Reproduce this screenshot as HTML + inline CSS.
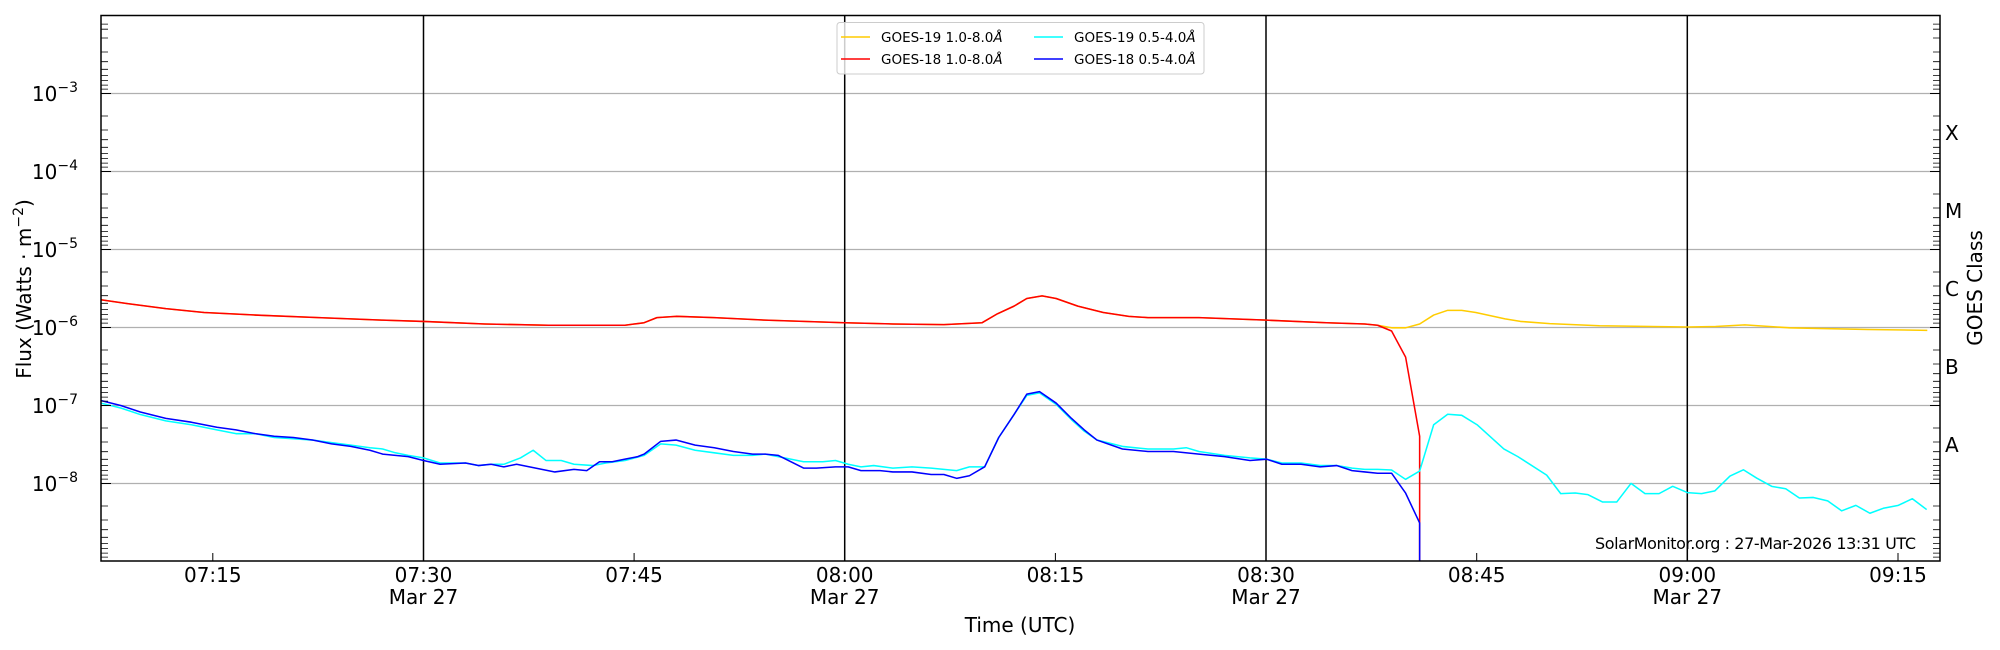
<!DOCTYPE html>
<html><head><meta charset="utf-8"><style>
html,body{margin:0;padding:0;background:#fff;}
svg{display:block;font-family:"DejaVu Sans","Liberation Sans",sans-serif;}
</style></head><body>
<svg width="2000" height="650" viewBox="0 0 2000 650" xmlns="http://www.w3.org/2000/svg">
<rect width="2000" height="650" fill="#fff"/>
<!-- grid -->
<g stroke="#b0b0b0" stroke-width="1.3">
<line x1="101" x2="1940" y1="93.5" y2="93.5"/>
<line x1="101" x2="1940" y1="171.5" y2="171.5"/>
<line x1="101" x2="1940" y1="249.5" y2="249.5"/>
<line x1="101" x2="1940" y1="327.5" y2="327.5"/>
<line x1="101" x2="1940" y1="405.5" y2="405.5"/>
<line x1="101" x2="1940" y1="483.5" y2="483.5"/>
</g>
<g stroke="#000" stroke-width="1.5">
<line x1="423.5" x2="423.5" y1="15.5" y2="561"/>
<line x1="844.7" x2="844.7" y1="15.5" y2="561"/>
<line x1="1266" x2="1266" y1="15.5" y2="561"/>
<line x1="1687.3" x2="1687.3" y1="15.5" y2="561"/>
</g>
<!-- data -->
<g transform="scale(1.27551)" fill="none" stroke-width="1.2" stroke-linejoin="round">
<polyline stroke="#ffcc00" points="79,235 100,238 130,242 160,245 200,247 250,249 300,251 332,252 380,254 430,255 470,255 490,255 505,253 515,249 530,248 560,249 600,251 662,253 700,254 740,254.5 770,253 782,246 795,240 805,234 817,232 828,234 845,240 865,245 885,248 900,249 940,249 993,251 1040,253 1070,254 1080,255 1091,257 1102,257 1113,254 1124,247 1135,243.3 1146,243.3 1157,245 1180,250 1192,252 1215,253.7 1254,255.4 1323,256.4 1345,256 1368,254.7 1403,257 1464,258.3 1511,259"/>
<polyline stroke="#ff0000" points="79,235 100,238 130,242 160,245 200,247 250,249 300,251 332,252 380,254 430,255 470,255 490,255 505,253 515,249 530,248 560,249 600,251 662,253 700,254 740,254.5 770,253 782,246 795,240 805,234 817,232 828,234 845,240 865,245 885,248 900,249 940,249 993,251 1040,253 1070,254 1080,255 1091,259.5 1102,280 1113,342 1113,440"/>
<polyline stroke="#00ffff" points="79,316 95,320 110,325 130,330 150,333 170,337 185,340 200,340 215,343 230,344 245,345 260,347 275,349 290,351 300,352 310,355 320,357 332,359 345,363 365,363 375,365 385,364 395,364 408,359 418,353 428,361 440,361 450,364 465,365 475,363 490,361 505,357 518,348 530,349 545,353 560,355 575,357 590,357 600,356 615,359 630,362 645,362 655,361 665,364 675,366 685,365 700,367 715,366 730,367 740,368 750,369 760,366 772,366 783,343 795,325 805,310 815,308 828,317 840,329 850,338 860,345 880,350 900,352 920,352 930,351 940,354 960,357 980,359 993,360 1005,363 1020,363 1035,365 1048,365 1060,367 1070,368 1080,368 1091,368.5 1102,375.8 1113,369.3 1124,333 1135,324.8 1146,325.6 1158,333 1179,352 1190,358 1212.6,372.5 1223.6,387 1235,386.5 1245,387.8 1256.5,393.6 1267.5,393.6 1278.7,379 1289.7,387 1300.7,387 1311.4,381.3 1322.9,386.2 1334,387 1344.5,384.8 1356.3,373.2 1366.8,368.3 1377.2,374.8 1389,381.3 1400,383.2 1410.7,390.4 1421.7,390 1432.9,392.7 1443.9,400.5 1455,396.2 1466,402.4 1476.5,398.5 1488.3,396.2 1499.3,391 1510.5,399.5"/>
<polyline stroke="#0000ff" points="79,314 95,318 110,323 130,328 150,331 170,335 185,337 200,340 215,342 230,343 245,345 260,348 275,350 290,353 300,356 310,357 320,358 332,361 345,364 365,363 375,365 385,364 395,366 405,364 420,367 435,370 450,368 460,369 470,362 480,362 490,360 500,358 505,356 518,346 530,345 545,349 560,351 575,354 590,356 600,356 610,357 620,362 630,367 640,367 655,366 665,366 675,369 690,369 700,370 715,370 730,372 740,372 750,375 760,373 772,366 783,343 795,325 805,309 815,307 828,316 840,328 850,337 860,345 880,352 900,354 920,354 940,356 960,358 980,361 993,360 1005,364 1020,364 1035,366 1048,365 1060,369 1070,370 1080,371 1091,371 1102,386.6 1113,410 1113,440"/>
</g>
<!-- axes box -->
<rect x="101" y="15.5" width="1839" height="545.5" fill="none" stroke="#000" stroke-width="1.5"/>
<!-- y ticks -->
<g stroke="#000" stroke-width="1" id="yt">
<path d="M101 93.5h10M101 171.5h10M101 249.5h10M101 327.5h10M101 405.5h10M101 483.5h10M1940 93.5h-10M1940 171.5h-10M1940 249.5h-10M1940 327.5h-10M1940 405.5h-10M1940 483.5h-10"/>
</g>
<g stroke="#000" stroke-width="0.8" id="minor"></g>
<!-- x ticks -->
<g stroke="#000" stroke-width="1">
<path d="M212.8 561v-8M634.1 561v-8M1055.4 561v-8M1476.7 561v-8M1898 561v-8"/>
</g>
<!-- y labels -->
<g font-size="20" fill="#000" text-anchor="end">
<text x="78" y="101">10<tspan dy="-9" font-size="14">−3</tspan></text>
<text x="78" y="179">10<tspan dy="-9" font-size="14">−4</tspan></text>
<text x="78" y="257">10<tspan dy="-9" font-size="14">−5</tspan></text>
<text x="78" y="335">10<tspan dy="-9" font-size="14">−6</tspan></text>
<text x="78" y="413">10<tspan dy="-9" font-size="14">−7</tspan></text>
<text x="78" y="491">10<tspan dy="-9" font-size="14">−8</tspan></text>
</g>
<g font-size="20" fill="#000">
<text x="1945" y="140">X</text>
<text x="1945" y="218">M</text>
<text x="1945" y="296">C</text>
<text x="1945" y="374">B</text>
<text x="1945" y="452">A</text>
</g>
<!-- x labels -->
<g font-size="20" fill="#000" text-anchor="middle">
<text x="212.8" y="582">07:15</text>
<text x="423.5" y="582">07:30</text><text x="423.5" y="604">Mar 27</text>
<text x="634.1" y="582">07:45</text>
<text x="844.7" y="582">08:00</text><text x="844.7" y="604">Mar 27</text>
<text x="1055.4" y="582">08:15</text>
<text x="1266" y="582">08:30</text><text x="1266" y="604">Mar 27</text>
<text x="1476.7" y="582">08:45</text>
<text x="1687.3" y="582">09:00</text><text x="1687.3" y="604">Mar 27</text>
<text x="1898" y="582">09:15</text>
<text x="1020" y="632">Time (UTC)</text>
<text transform="translate(31,289) rotate(-90)">Flux (Watts · m<tspan dy="-8" font-size="14">−2</tspan><tspan dy="8">)</tspan></text>
<text transform="translate(1982,288) rotate(-90)">GOES Class</text>
</g>
<text x="1595" y="549" font-size="16" textLength="321" fill="#000">SolarMonitor.org : 27-Mar-2026 13:31 UTC</text>
<!-- legend -->
<rect x="837" y="22.5" width="367" height="51.5" rx="3" fill="#fff" fill-opacity="0.8" stroke="#cccccc" stroke-width="1"/>
<g stroke-width="1.5">
<line x1="841" x2="870" y1="37" y2="37" stroke="#ffcc00"/>
<line x1="841" x2="870" y1="59" y2="59" stroke="#ff0000"/>
<line x1="1034" x2="1063" y1="37" y2="37" stroke="#00ffff"/>
<line x1="1034" x2="1063" y1="59" y2="59" stroke="#0000ff"/>
</g>
<g font-size="13.5" fill="#000">
<text x="881" y="42">GOES-19 1.0-8.0<tspan font-style="italic">Å</tspan></text>
<text x="881" y="64">GOES-18 1.0-8.0<tspan font-style="italic">Å</tspan></text>
<text x="1074" y="42">GOES-19 0.5-4.0<tspan font-style="italic">Å</tspan></text>
<text x="1074" y="64">GOES-18 0.5-4.0<tspan font-style="italic">Å</tspan></text>
</g>
<!-- minor ticks generated statically -->
<g stroke="#000" stroke-width="0.8">
<path d="
M101 38h7M101 52h7M101 61.7h7M101 69.3h7M101 75.4h7M101 80.6h7M101 85.1h7M101 89.1h7
M101 116h7M101 130h7M101 139.7h7M101 147.3h7M101 153.4h7M101 158.6h7M101 163.1h7M101 167.1h7
M101 194h7M101 208h7M101 217.7h7M101 225.3h7M101 231.4h7M101 236.6h7M101 241.1h7M101 245.1h7
M101 272h7M101 286h7M101 295.7h7M101 303.3h7M101 309.4h7M101 314.6h7M101 319.1h7M101 323.1h7
M101 350h7M101 364h7M101 373.7h7M101 381.3h7M101 387.4h7M101 392.6h7M101 397.1h7M101 401.1h7
M101 428h7M101 442h7M101 451.7h7M101 459.3h7M101 465.4h7M101 470.6h7M101 475.1h7M101 479.1h7
M101 506h7M101 520h7M101 529.7h7M101 537.3h7M101 543.4h7M101 548.6h7M101 553.1h7M101 557.1h7
M101 24.1h7M101 29.2h7
M1940 38h-7M1940 52h-7M1940 61.7h-7M1940 69.3h-7M1940 75.4h-7M1940 80.6h-7M1940 85.1h-7M1940 89.1h-7
M1940 116h-7M1940 130h-7M1940 139.7h-7M1940 147.3h-7M1940 153.4h-7M1940 158.6h-7M1940 163.1h-7M1940 167.1h-7
M1940 194h-7M1940 208h-7M1940 217.7h-7M1940 225.3h-7M1940 231.4h-7M1940 236.6h-7M1940 241.1h-7M1940 245.1h-7
M1940 272h-7M1940 286h-7M1940 295.7h-7M1940 303.3h-7M1940 309.4h-7M1940 314.6h-7M1940 319.1h-7M1940 323.1h-7
M1940 350h-7M1940 364h-7M1940 373.7h-7M1940 381.3h-7M1940 387.4h-7M1940 392.6h-7M1940 397.1h-7M1940 401.1h-7
M1940 428h-7M1940 442h-7M1940 451.7h-7M1940 459.3h-7M1940 465.4h-7M1940 470.6h-7M1940 475.1h-7M1940 479.1h-7
M1940 506h-7M1940 520h-7M1940 529.7h-7M1940 537.3h-7M1940 543.4h-7M1940 548.6h-7M1940 553.1h-7M1940 557.1h-7
M1940 24.1h-7M1940 29.2h-7"/>
</g>
</svg>
</body></html>
